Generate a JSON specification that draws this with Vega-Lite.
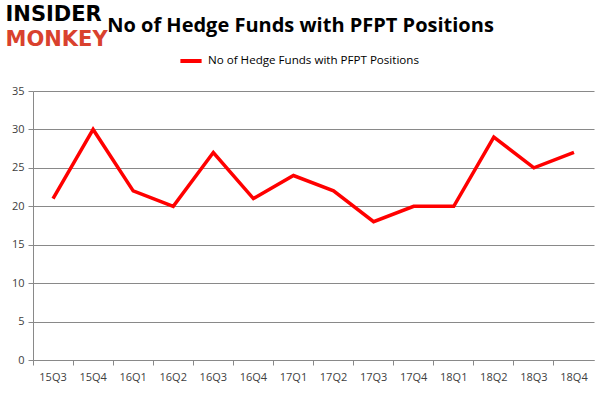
{
  "$schema": "https://vega.github.io/schema/vega-lite/v6.json",
  "width": 561,
  "height": 269,
  "autosize": {"type": "none"},
  "padding": {"left": 33, "top": 91, "right": 7, "bottom": 36},
  "background": "white",
  "title": {
    "text": "No of Hedge Funds with PFPT Positions",
    "font": "Open Sans",
    "fontSize": 20,
    "fontWeight": "bold",
    "color": "#000000",
    "anchor": "middle",
    "dx": -13,
    "offset": -33
  },
  "data": {
    "values": [
      {"quarter": "15Q3", "funds": 21, "series": "No of Hedge Funds with PFPT Positions"},
      {"quarter": "15Q4", "funds": 30, "series": "No of Hedge Funds with PFPT Positions"},
      {"quarter": "16Q1", "funds": 22, "series": "No of Hedge Funds with PFPT Positions"},
      {"quarter": "16Q2", "funds": 20, "series": "No of Hedge Funds with PFPT Positions"},
      {"quarter": "16Q3", "funds": 27, "series": "No of Hedge Funds with PFPT Positions"},
      {"quarter": "16Q4", "funds": 21, "series": "No of Hedge Funds with PFPT Positions"},
      {"quarter": "17Q1", "funds": 24, "series": "No of Hedge Funds with PFPT Positions"},
      {"quarter": "17Q2", "funds": 22, "series": "No of Hedge Funds with PFPT Positions"},
      {"quarter": "17Q3", "funds": 18, "series": "No of Hedge Funds with PFPT Positions"},
      {"quarter": "17Q4", "funds": 20, "series": "No of Hedge Funds with PFPT Positions"},
      {"quarter": "18Q1", "funds": 20, "series": "No of Hedge Funds with PFPT Positions"},
      {"quarter": "18Q2", "funds": 29, "series": "No of Hedge Funds with PFPT Positions"},
      {"quarter": "18Q3", "funds": 25, "series": "No of Hedge Funds with PFPT Positions"},
      {"quarter": "18Q4", "funds": 27, "series": "No of Hedge Funds with PFPT Positions"}
    ]
  },
  "mark": {"type": "line", "strokeWidth": 3.5, "strokeJoin": "miter", "strokeCap": "butt"},
  "encoding": {
    "x": {
      "field": "quarter",
      "type": "ordinal",
      "sort": null,
      "bandPosition": 0.5,
      "scale": {"type": "band", "paddingInner": 0, "paddingOuter": 0},
      "axis": {
        "title": "MONKEY",
        "titleFont": "DejaVu Sans",
        "titleFontSize": 21,
        "titleFontWeight": "bold",
        "titleColor": "#d9412e",
        "titleAlign": "left",
        "titleBaseline": "middle",
        "titleAngle": 0,
        "titleX": -28,
        "titleY": -321,
        "labelAngle": 0,
        "labelFont": "Open Sans",
        "labelFontSize": 11,
        "labelColor": "#404040",
        "labelPadding": 6,
        "bandPosition": 0,
        "ticks": true,
        "tickSize": 5,
        "tickColor": "#898989",
        "domainColor": "#898989",
        "grid": false
      }
    },
    "y": {
      "field": "funds",
      "type": "quantitative",
      "scale": {"domain": [0, 35]},
      "axis": {
        "values": [0, 5, 10, 15, 20, 25, 30, 35],
        "title": "INSIDER",
        "titleFont": "DejaVu Sans",
        "titleFontSize": 21,
        "titleFontWeight": "bold",
        "titleColor": "#000000",
        "titleAlign": "left",
        "titleBaseline": "middle",
        "titleAngle": 0,
        "titleX": -28,
        "titleY": -77,
        "labelFont": "Open Sans",
        "labelFontSize": 11,
        "labelColor": "#404040",
        "labelPadding": 4,
        "tickSize": 5,
        "tickColor": "#898989",
        "domainColor": "#898989",
        "grid": true,
        "gridColor": "#898989"
      }
    },
    "color": {
      "field": "series",
      "type": "nominal",
      "scale": {"range": ["#ff0000"]},
      "legend": {
        "title": null,
        "orient": "none",
        "legendX": 145,
        "legendY": -43,
        "symbolType": "stroke",
        "symbolSize": 450,
        "symbolStrokeWidth": 4,
        "labelFont": "Open Sans",
        "labelFontSize": 11.6,
        "labelLimit": 400,
        "labelColor": "#000000"
      }
    }
  },
  "config": {"view": {"stroke": null}}
}
